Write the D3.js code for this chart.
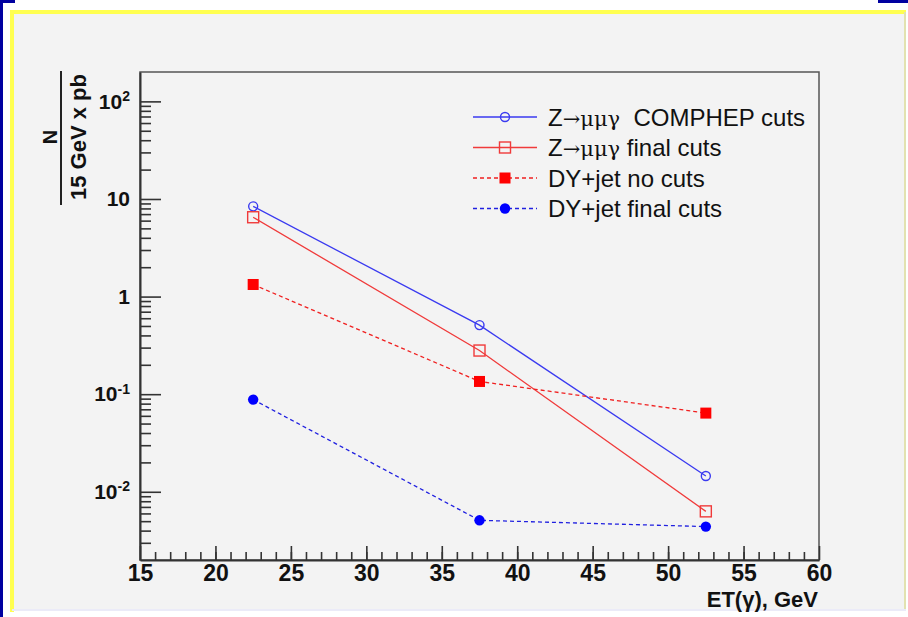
<!DOCTYPE html>
<html lang="en">
<head>
  <meta charset="UTF-8">
  <title>ET(gamma) spectrum</title>
  <style>
    body, html {
      margin: 0;
      padding: 0;
      background: #fff;
      font-family: "Liberation Sans", Arial, sans-serif;
    }
    svg { display: block; }
  </style>
</head>
<body>
  <svg id="svg" width="908" height="617"></svg>

  <script src="https://cdn.jsdelivr.net/npm/d3@7"></script>
  <script>
    // data
    const etBins = [22.5, 37.5, 52.5];
    const zComphep = [8.4, 0.51, 0.0145];
    const zFinal = [6.5, 0.28, 0.0063];
    const dyNoCuts = [1.33, 0.135, 0.064];
    const dyFinal = [0.088, 0.0051, 0.0044];

    const xMajorTicks = [15, 20, 25, 30, 35, 40, 45, 50, 55, 60];
    const yMajorTicks = [100, 10, 1, 0.1, 0.01];
    const yTickLabels = [['10', '2'], ['10', ''], ['1', ''], ['10', '-1'], ['10', '-2']];

    const series = [
      { name: 'COMPHEP cuts', values: zComphep, color: '#3a3af0', dash: null, marker: 'openCircle' },
      { name: 'final cuts', values: zFinal, color: '#f03a3a', dash: null, marker: 'openSquare' },
      { name: 'DY+jet no cuts', values: dyNoCuts, color: '#f02020', dash: '4,3', marker: 'fillSquare' },
      { name: 'DY+jet final cuts', values: dyFinal, color: '#2020e0', dash: '4,3', marker: 'fillCircle' }
    ];

    const svg = d3.select('#svg');

    // page decoration
    svg.append('rect').attr('x', 12).attr('y', 12).attr('width', 893).attr('height', 597).attr('fill', '#f3f3f3');
    svg.append('line').attr('x1', 10).attr('x2', 906).attr('y1', 12).attr('y2', 12).attr('stroke', '#ffff50').attr('stroke-width', 4);
    svg.append('line').attr('x1', 12).attr('x2', 12).attr('y1', 10).attr('y2', 612).attr('stroke', '#ffff50').attr('stroke-width', 4);
    svg.append('line').attr('x1', 905).attr('x2', 905).attr('y1', 12).attr('y2', 611).attr('stroke', '#e2e2b0').attr('stroke-width', 2);
    svg.append('line').attr('x1', 12).attr('x2', 906).attr('y1', 610).attr('y2', 610).attr('stroke', '#ebebf8').attr('stroke-width', 2);
    svg.append('rect').attr('x', 0).attr('y', 0).attr('width', 3).attr('height', 617).attr('fill', '#0000a0');
    svg.append('rect').attr('x', 0).attr('y', 0).attr('width', 15).attr('height', 3).attr('fill', '#0000a0');
    svg.append('rect').attr('x', 878).attr('y', 0).attr('width', 30).attr('height', 3).attr('fill', '#0000a0');

    const plotLeft = 140, plotRight = 819, plotTop = 72, plotBottom = 560;

    const x = d3.scaleLinear().domain([15, 60]).range([plotLeft, plotRight]);
    const y = d3.scaleLog().domain([0.002, 200]).range([plotBottom, plotTop]);

    // frame
    svg.append('rect')
      .attr('x', plotLeft).attr('y', plotTop)
      .attr('width', plotRight - plotLeft).attr('height', plotBottom - plotTop)
      .attr('fill', 'none').attr('stroke', '#555').attr('stroke-width', 1.5);

    // y axis minor ticks
    const yMinor = [];
    for (let e = -3; e <= 2; e++) {
      for (let m = 2; m <= 9; m++) {
        const v = m * Math.pow(10, e);
        if (v > 0.002 && v < 200) yMinor.push(v);
      }
    }
    const yMinorAxis = svg.append('g')
      .attr('transform', `translate(${plotLeft},0)`)
      .call(d3.axisLeft(y).tickValues(yMinor).tickSize(-11).tickFormat(''));
    yMinorAxis.select('.domain').remove();

    const yAxis = svg.append('g')
      .attr('transform', `translate(${plotLeft},0)`)
      .call(d3.axisLeft(y).tickValues(yMajorTicks).tickSize(-21).tickSizeOuter(0).tickPadding(10));

    yAxis.selectAll('text')
      .style('font-size', '21px')
      .style('font-weight', 'bold')
      .attr('fill', '#111')
      .each(function (d, i) {
        const t = d3.select(this);
        t.text(null);
        t.append('tspan').text(yTickLabels[i][0]);
        if (yTickLabels[i][1]) {
          t.append('tspan')
            .attr('dy', '-0.55em')
            .style('font-size', '14px')
            .text(yTickLabels[i][1]);
        }
      });

    // x axis
    const xMinorAxis = svg.append('g')
      .attr('transform', `translate(0,${plotBottom})`)
      .call(d3.axisBottom(x).tickValues(d3.range(16, 60, 1)).tickSize(-8).tickFormat(''));
    xMinorAxis.select('.domain').remove();

    const xAxis = svg.append('g')
      .attr('transform', `translate(0,${plotBottom})`)
      .call(d3.axisBottom(x).tickValues(xMajorTicks).tickSize(-14).tickSizeOuter(0).tickPadding(5));

    xAxis.selectAll('text')
      .style('font-size', '23px')
      .style('font-weight', 'bold')
      .attr('fill', '#111');

    svg.selectAll('.tick line').attr('stroke', '#333').attr('stroke-width', 1.6);
    svg.selectAll('.domain').attr('stroke', '#333').attr('stroke-width', 2);

    // axis titles
    svg.append('text')
      .attr('x', 818).attr('y', 607)
      .attr('text-anchor', 'end')
      .style('font-size', '22px')
      .style('font-weight', 'bold')
      .attr('fill', '#111')
      .text('ET(γ), GeV');

    const yTitle = svg.append('g').attr('transform', 'translate(0,137)');
    yTitle.append('text')
      .attr('transform', 'translate(57,0) rotate(-90)')
      .attr('text-anchor', 'middle')
      .style('font-size', '20px')
      .style('font-weight', 'bold')
      .attr('fill', '#111')
      .text('N');
    yTitle.append('line')
      .attr('x1', 61).attr('x2', 61).attr('y1', -66).attr('y2', 68)
      .attr('stroke', '#222').attr('stroke-width', 2);
    yTitle.append('text')
      .attr('transform', 'translate(86,0) rotate(-90)')
      .attr('text-anchor', 'middle')
      .style('font-size', '22px')
      .style('font-weight', 'bold')
      .attr('fill', '#111')
      .text('15 GeV x pb');

    // markers
    function drawMarker(g, kind, color, cx, cy) {
      if (kind === 'openCircle') {
        g.append('circle').attr('cx', cx).attr('cy', cy).attr('r', 4.5)
          .attr('fill', 'none').attr('stroke', color).attr('stroke-width', 1.4);
      } else if (kind === 'fillCircle') {
        g.append('circle').attr('cx', cx).attr('cy', cy).attr('r', 5.2)
          .attr('fill', '#0000ff');
      } else if (kind === 'openSquare') {
        g.append('rect').attr('x', cx - 5.5).attr('y', cy - 5.5).attr('width', 11).attr('height', 11)
          .attr('fill', 'none').attr('stroke', color).attr('stroke-width', 1.4);
      } else {
        g.append('rect').attr('x', cx - 5.5).attr('y', cy - 5.5).attr('width', 11).attr('height', 11)
          .attr('fill', '#ff0000');
      }
    }

    const line = d3.line().x(d => x(d[0])).y(d => y(d[1]));

    series.forEach(s => {
      const pts = etBins.map((e, i) => [e, s.values[i]]);
      svg.append('path')
        .datum(pts)
        .attr('d', line)
        .attr('fill', 'none')
        .attr('stroke', s.color)
        .attr('stroke-width', 1.3)
        .attr('stroke-dasharray', s.dash);
      const g = svg.append('g');
      pts.forEach(p => drawMarker(g, s.marker, s.color, x(p[0]), y(p[1])));
    });

    // legend
    const legend = svg.append('g');
    const rowY = [117, 147.5, 178, 208.5];
    series.forEach((s, i) => {
      const ly = rowY[i];
      legend.append('line')
        .attr('x1', 473).attr('x2', 537).attr('y1', ly).attr('y2', ly)
        .attr('stroke', s.color).attr('stroke-width', 1.3)
        .attr('stroke-dasharray', s.dash);
      drawMarker(legend, s.marker, s.color, 505, ly);
      const t = legend.append('text')
        .attr('x', 548).attr('y', ly + 8.5)
        .style('font-size', '24px')
        .attr('fill', '#111');
      if (i < 2) {
        t.append('tspan').text('Z');
        t.append('tspan').style('font-family', '"DejaVu Serif", serif').style('font-size', '21px').text('→μμγ');
        t.append('tspan').text(i === 0 ? '\u00a0\u00a0' + s.name : ' ' + s.name);
      } else {
        t.text(s.name);
      }
    });
  </script>
</body>
</html>
